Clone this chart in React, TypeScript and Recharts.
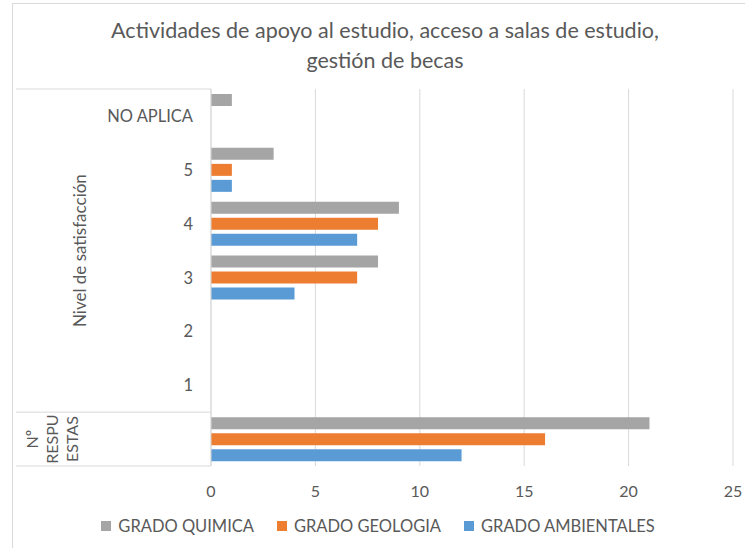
import React from 'react';
import { BarChart, Bar, XAxis, YAxis, CartesianGrid } from 'recharts';

// niveles de satisfacción + fila de nº de respuestas
const categories = ['NO APLICA', '5', '4', '3', '2', '1', ''];
const quimica = [1, 3, 9, 8, null, null, 21];
const geologia = [null, 1, 8, 7, null, null, 16];
const ambientales = [null, 1, 7, 4, null, null, 12];
const xTicks = [0, 5, 10, 15, 20, 25];

const seriesKeys = ['quimica', 'geologia', 'ambientales'];
const seriesNames = ['GRADO QUIMICA', 'GRADO GEOLOGIA', 'GRADO AMBIENTALES'];
const seriesColors = ['#A5A5A5', '#ED7D31', '#5B9BD5'];

const groupLabel = 'Nivel de satisfacción';
const totalLabelLines = ['Nº', 'RESPU', 'ESTAS'];

const titleLines = ['Actividades de apoyo al estudio, acceso a salas de estudio,', 'gestión de becas'];

const data = categories.map((cat, i) => ({
  cat,
  quimica: quimica[i],
  geologia: geologia[i],
  ambientales: ambientales[i],
}));

const FONT = 'Lato, "Open Sans", sans-serif';
const TEXT = '#595959';
const LINE = '#d9d9d9';
const BOX_LEFT = 16;

const CategoryTick = (props: any) => {
  const { x, y, payload } = props;
  const index = payload?.index ?? props.index;
  const half = payload?.offset || 27;
  const band = half * 2;
  const axisX = x + 18;
  return (
    <g>
      <text x={x} y={y} textAnchor="end" dominantBaseline="central" fill={TEXT} fontSize={16.5} fontFamily={FONT}>
        {payload.value}
      </text>
      {index === 0 && (
        <>
          <line x1={BOX_LEFT} x2={axisX} y1={y - half} y2={y - half} stroke={LINE} />
          <text
            transform={`translate(79, ${y + 2.5 * band}) rotate(-90)`}
            textAnchor="middle"
            dominantBaseline="central"
            fill={TEXT}
            fontSize={17}
            fontFamily={FONT}
          >
            {groupLabel}
          </text>
        </>
      )}
      {index === 5 && <line x1={BOX_LEFT} x2={axisX} y1={y + half} y2={y + half} stroke={LINE} />}
      {index === 6 && (
        <>
          <line x1={BOX_LEFT} x2={axisX} y1={y + half} y2={y + half} stroke={LINE} />
          {totalLabelLines.map((t, i) => (
            <text
              key={t}
              transform={`translate(${31 + i * 20}, ${y}) rotate(-90)`}
              textAnchor="middle"
              dominantBaseline="central"
              fill={TEXT}
              fontSize={16}
              fontFamily={FONT}
            >
              {t}
            </text>
          ))}
        </>
      )}
    </g>
  );
};

export default function App() {
  return (
    <div style={{ position: 'fixed', left: 0, top: 0, width: 745, height: 548, background: '#fff', overflow: 'hidden', fontFamily: FONT }}>
      <div style={{ position: 'absolute', left: 12, top: 3, width: 800, height: 600, borderLeft: `1px solid ${LINE}`, borderTop: `1px solid ${LINE}` }} />
      <div style={{ position: 'absolute', left: 0, width: 770, top: 15, textAlign: 'center', color: TEXT, fontSize: 21.5, lineHeight: '30px' }}>
        {titleLines.map((t) => (
          <div key={t}>{t}</div>
        ))}
      </div>
      <div style={{ position: 'absolute', top: 0, left: 0 }}>
        <BarChart
          width={745}
          height={548}
          data={data}
          layout="vertical"
          margin={{ top: 89, right: 12, bottom: 52, left: BOX_LEFT }}
          barCategoryGap={5}
          barGap={4}
        >
          <CartesianGrid horizontal={false} stroke={LINE} />
          <XAxis
            type="number"
            domain={[0, 25]}
            ticks={xTicks}
            axisLine={false}
            tickLine={false}
            tickSize={6}
            tickMargin={14}
            height={30}
            tick={{ fill: TEXT, fontSize: 16, fontFamily: FONT }}
          />
          <YAxis
            type="category"
            dataKey="cat"
            width={195}
            interval={0}
            axisLine={{ stroke: LINE }}
            tickLine={false}
            tickSize={6}
            tickMargin={12}
            tick={<CategoryTick />}
          />
          {seriesKeys.map((k, i) => (
            <Bar key={k} dataKey={k} name={seriesNames[i]} fill={seriesColors[i]} isAnimationActive={false} />
          ))}
        </BarChart>
      </div>
      <div style={{ position: 'absolute', top: 516, left: 0, width: 756, display: 'flex', justifyContent: 'center', gap: 23, color: TEXT, fontSize: 16.5 }}>
        {seriesNames.map((n, i) => (
          <div key={n} style={{ display: 'flex', alignItems: 'center', gap: 7 }}>
            <span style={{ width: 10, height: 10, background: seriesColors[i], display: 'inline-block' }} />
            <span>{n}</span>
          </div>
        ))}
      </div>
    </div>
  );
}
